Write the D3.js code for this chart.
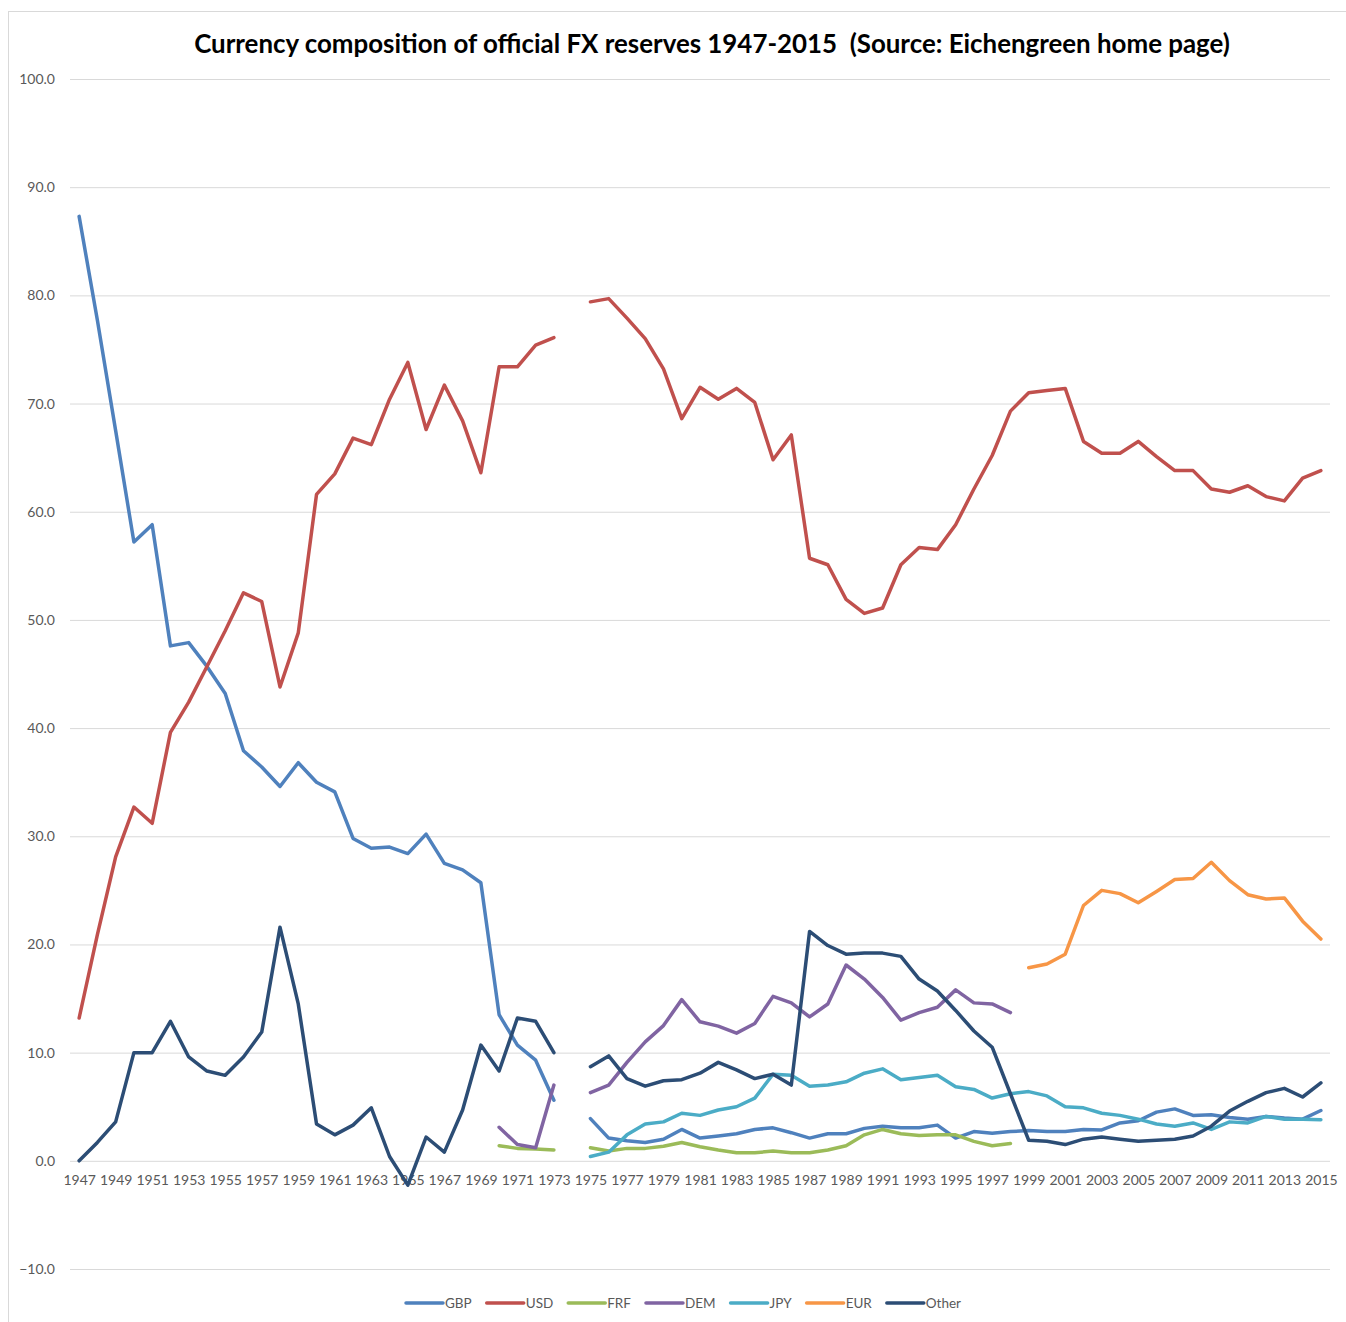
<!DOCTYPE html>
<html>
<head>
<meta charset="utf-8">
<script src="https://cdn.jsdelivr.net/npm/d3@7/dist/d3.min.js"></script>
<style>
  html, body { margin: 0; padding: 0; background: #fff; }
  svg { display: block; }
</style>
</head>
<body>
<svg id="chart" width="1346" height="1322"></svg>
<script>
// ---------- DATA ----------
const years = [1947,1948,1949,1950,1951,1952,1953,1954,1955,1956,1957,1958,1959,1960,1961,1962,1963,1964,1965,1966,1967,1968,1969,1970,1971,1972,1973,1974,1975,1976,1977,1978,1979,1980,1981,1982,1983,1984,1985,1986,1987,1988,1989,1990,1991,1992,1993,1994,1995,1996,1997,1998,1999,2000,2001,2002,2003,2004,2005,2006,2007,2008,2009,2010,2011,2012,2013,2014,2015];
const xTickLabels = [1947,1949,1951,1953,1955,1957,1959,1961,1963,1965,1967,1969,1971,1973,1975,1977,1979,1981,1983,1985,1987,1989,1991,1993,1995,1997,1999,2001,2003,2005,2007,2009,2011,2013,2015];
const yTicks = [-10,0,10,20,30,40,50,60,70,80,90,100];
const seriesNames = ["GBP","USD","FRF","DEM","JPY","EUR","Other"];

// values per year 1947..2015 (null = no data)
const GBP = [87.3,77.7,67.5,57.2,58.8,47.6,47.9,45.7,43.2,37.9,36.4,34.6,36.8,35.0,34.1,29.8,28.9,29.0,28.4,30.2,27.5,26.9,25.7,13.5,10.7,9.3,5.6,
  null,
  3.9,2.1,1.85,1.7,2.0,2.9,2.1,2.3,2.5,2.9,3.05,2.6,2.1,2.5,2.5,3.0,3.2,3.05,3.05,3.3,2.1,2.7,2.55,2.7,2.8,2.7,2.7,2.9,2.85,3.5,3.7,4.5,4.8,4.2,4.25,4.0,3.85,4.1,3.95,3.85,4.65];
const USD = [13.2,20.9,28.1,32.7,31.2,39.6,42.4,45.7,49.0,52.5,51.7,43.8,48.8,61.6,63.5,66.8,66.2,70.4,73.8,67.6,71.7,68.4,63.6,73.4,73.4,75.4,76.1,
  null,
  79.4,79.7,77.9,76.0,73.2,68.6,71.5,70.4,71.4,70.1,64.8,67.1,55.7,55.1,51.9,50.6,51.1,55.1,56.7,56.5,58.8,62.1,65.2,69.3,71.0,71.2,71.4,66.5,65.4,65.4,66.5,65.1,63.8,63.8,62.1,61.8,62.4,61.4,61.0,63.1,63.8];
const FRF = [null,null,null,null,null,null,null,null,null,null,null,null,null,null,null,null,null,null,null,null,null,null,null,
  1.4,1.15,1.1,1.0,
  null,
  1.2,0.9,1.15,1.15,1.35,1.7,1.3,1.0,0.75,0.75,0.9,0.75,0.75,1.0,1.4,2.4,2.9,2.5,2.35,2.4,2.4,1.8,1.4,1.6,
  null,null,null,null,null,null,null,null,null,null,null,null,null,null,null,null,null];
const DEM = [null,null,null,null,null,null,null,null,null,null,null,null,null,null,null,null,null,null,null,null,null,null,null,
  3.1,1.5,1.2,7.0,
  null,
  6.3,7.0,9.1,11.0,12.5,14.9,12.85,12.45,11.8,12.7,15.2,14.6,13.3,14.5,18.1,16.8,15.1,13.0,13.7,14.2,15.8,14.6,14.5,13.7,
  null,null,null,null,null,null,null,null,null,null,null,null,null,null,null,null,null];
const JPY = [null,null,null,null,null,null,null,null,null,null,null,null,null,null,null,null,null,null,null,null,null,null,null,null,null,null,null,
  null,
  0.4,0.8,2.4,3.4,3.6,4.4,4.2,4.7,5.0,5.8,8.0,7.9,6.9,7.0,7.3,8.1,8.5,7.5,7.7,7.9,6.85,6.6,5.8,6.2,6.4,6.0,5.0,4.9,4.4,4.2,3.85,3.4,3.2,3.5,2.9,3.6,3.5,4.1,3.85,3.85,3.8];
const EUR = [null,null,null,null,null,null,null,null,null,null,null,null,null,null,null,null,null,null,null,null,null,null,null,null,null,null,null,
  null,
  null,null,null,null,null,null,null,null,null,null,null,null,null,null,null,null,null,null,null,null,null,null,null,null,
  17.85,18.2,19.1,23.6,25.0,24.7,23.85,24.9,26.0,26.1,27.6,25.9,24.6,24.2,24.3,22.15,20.5];
const Other = [0.0,1.7,3.6,10.0,10.0,12.9,9.6,8.3,7.9,9.6,11.9,21.6,14.5,3.4,2.4,3.3,4.9,0.4,-2.25,2.2,0.8,4.7,10.7,8.3,13.2,12.9,10.0,
  null,
  8.7,9.7,7.6,6.9,7.4,7.5,8.1,9.1,8.4,7.6,8.0,7.0,21.2,19.9,19.1,19.2,19.2,18.9,16.8,15.7,13.9,12.0,10.5,6.2,1.9,1.8,1.5,2.0,2.2,2.0,1.8,1.9,2.0,2.3,3.2,4.6,5.5,6.3,6.7,5.9,7.2];

const titleText = "Currency composition of official FX reserves 1947-2015  (Source: Eichengreen home page)";

// ---------- STYLE ----------
const colors = {GBP:"#4F81BD", USD:"#C0504D", FRF:"#9BBB59", DEM:"#8064A2", JPY:"#4BACC6", EUR:"#F79646", Other:"#2C4D75"};
const seriesData = {GBP, USD, FRF, DEM, JPY, EUR, Other};
const font = "Lato, 'Open Sans', sans-serif";
const textGray = "#595959";

const svg = d3.select("#chart");
const W = 1346, H = 1322;
const plot = {left: 70, right: 1330, top: 79, bottom: 1269};

// outer chart border (cropped on right/bottom like the reference)
svg.append("rect")
  .attr("x", 8.5).attr("y", 11.5)
  .attr("width", W + 20).attr("height", H + 20)
  .attr("fill", "#fff").attr("stroke", "#D9D9D9").attr("stroke-width", 1);

const x = d3.scalePoint().domain(years).range([plot.left, plot.right]).padding(0.5);
const y = d3.scaleLinear().domain([-10, 100]).range([plot.bottom, plot.top]);

// Y axis with gridlines
const yAxis = d3.axisLeft(y)
  .tickValues(yTicks)
  .tickFormat(d3.format(".1f"))
  .tickSizeInner(-(plot.right - plot.left))
  .tickSizeOuter(0)
  .tickPadding(15);
const gy = svg.append("g").attr("transform", `translate(${plot.left},0)`).call(yAxis);
gy.select(".domain").remove();
gy.selectAll(".tick line").attr("stroke", "#D9D9D9").attr("stroke-width", 1);
gy.selectAll(".tick text").attr("fill", textGray).style("font-family", font).style("font-size", "14px");

// X axis labels
const xAxis = d3.axisBottom(x).tickValues(xTickLabels).tickSize(0).tickPadding(14);
const gx = svg.append("g").attr("transform", `translate(0,${y(0)})`).call(xAxis);
gx.select(".domain").remove();
gx.selectAll(".tick text").attr("fill", textGray).style("font-family", font).style("font-size", "14px");

// Lines
const line = d3.line()
  .defined(d => d.v !== null)
  .x(d => x(d.year))
  .y(d => y(d.v));

seriesNames.forEach(name => {
  const pts = years.map((yr, i) => ({year: yr, v: seriesData[name][i]}));
  svg.append("path")
    .datum(pts)
    .attr("fill", "none")
    .attr("stroke", colors[name])
    .attr("stroke-width", 3.5)
    .attr("stroke-linejoin", "round")
    .attr("stroke-linecap", "round")
    .attr("d", line);
});

// Title (fit to reference width)
const title = svg.append("text")
  .attr("x", 712).attr("y", 53)
  .attr("text-anchor", "middle")
  .style("font-family", font)
  .style("font-weight", "bold")
  .style("font-size", "24px")
  .attr("fill", "#000")
  .attr("xml:space", "preserve")
  .style("white-space", "pre")
  .text(titleText);
const tw = title.node().getComputedTextLength();
title.style("font-size", (24 * 1036 / tw).toFixed(2) + "px");

// Legend
const legendY = 1303;
let lx = 406;
const leg = svg.append("g");
seriesNames.forEach(name => {
  leg.append("line")
    .attr("x1", lx).attr("x2", lx + 37)
    .attr("y1", legendY).attr("y2", legendY)
    .attr("stroke", colors[name]).attr("stroke-width", 3.5).attr("stroke-linecap", "round");
  const t = leg.append("text")
    .attr("x", lx + 39).attr("y", legendY + 5)
    .attr("fill", textGray)
    .style("font-family", font).style("font-size", "13.5px")
    .text(name);
  lx += 39 + t.node().getComputedTextLength() + 15;
});
</script>
</body>
</html>
